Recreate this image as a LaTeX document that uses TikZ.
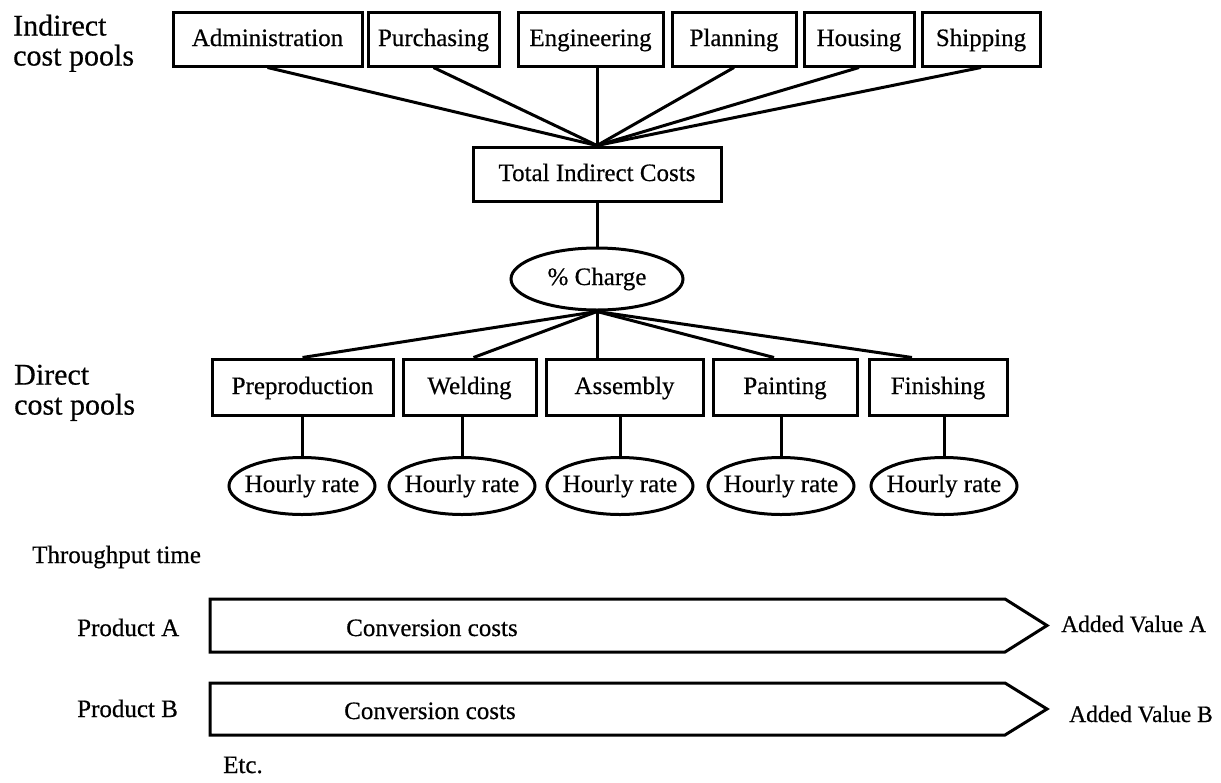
\documentclass[tikz,border=0pt]{standalone}
\usepackage{fontspec}
\setmainfont{Liberation Serif}
\newfontfamily\inkserif{Liberation Serif}[FakeBold=0.5]
\usetikzlibrary{shapes.geometric,calc}
% label centred in an oval without widening it
\newcommand\ovaltext[1]{\makebox[0pt]{#1}}
\begin{document}
\begin{tikzpicture}[x=1pt,y=-1pt,
  txt/.style={font=\inkserif\fontsize{25}{28}\selectfont, inner sep=0pt},
  pool/.style={txt, draw, line width=3pt, minimum height=54pt, text height=19pt, text depth=5pt},
  oval/.style={txt, draw, ellipse, line width=3pt, text height=18pt, text depth=6pt},
  link/.style={line width=3pt},
  flow/.style={line width=3pt, line join=miter},
  sidelabel/.style={font=\inkserif\fontsize{30}{30}\selectfont, align=left, inner sep=0pt, anchor=north west},
  plain/.style={txt, anchor=base west},
  result/.style={plain, font=\inkserif\fontsize{23.5}{28}\selectfont}]
\useasboundingbox (0,0) rectangle (1221,782);

% ---- indirect cost pools ----
\node[sidelabel] (indirect) at (13,14.5) {Indirect\\cost pools};
\node[pool, minimum width=189pt] (adm) at (267.5,39) {Administration};
\node[pool, minimum width=131pt] (pur) at (433.5,39) {Purchasing};
\node[pool, minimum width=145pt] (eng) at (590.5,39) {Engineering};
\node[pool, minimum width=124pt] (pla) at (734,39)   {Planning};
\node[pool, minimum width=110pt] (hou) at (859,39)   {Housing};
\node[pool, minimum width=118pt] (shi) at (981,39)   {Shipping};

\node[pool, minimum width=248pt] (total) at (597,174) {Total Indirect Costs};

\draw[link] (adm.south) -- (total.north);
\draw[link] (pur.south) -- (total.north);
\draw[link] (eng.south -| total.north) -- (total.north);
\draw[link] (pla.south) -- (total.north);
\draw[link] (hou.south) -- (total.north);
\draw[link] (shi.south) -- (total.north);

% ---- overhead charge ----
\node[oval, minimum width=172pt, minimum height=62pt] (charge) at (597,279) {\ovaltext{\% Charge}};
\draw[link] (total.south) -- (charge.north);

% ---- direct cost pools ----
\node[sidelabel] (direct) at (14,364.5) {Direct\\cost pools};
\node[pool, minimum width=181pt, minimum height=56pt] (pre) at (302.5,387) {Preproduction};
\node[pool, minimum width=133pt, minimum height=56pt] (wel) at (469.5,387) {Welding};
\node[pool, minimum width=157pt, minimum height=56pt] (ass) at (624.5,387) {Assembly};
\node[pool, minimum width=144pt, minimum height=56pt] (pai) at (785,387)   {Painting};
\node[pool, minimum width=138pt, minimum height=56pt] (fin) at (938,387)   {Finishing};

\draw[link] (charge.south) -- (pre.north);
\draw[link] (charge.south) -- ($(wel.north)+(4,0)$);
\draw[link] (charge.south) -- (charge.south |- ass.north);
\draw[link] (charge.south) -- ($(pai.north)+(-11,0)$);
\draw[link] (charge.south) -- ($(fin.north)+(-26,0)$);

% ---- hourly rates ----
\foreach \n/\x/\p in {1/302/pre, 2/462/wel, 3/620/ass, 4/781/pai, 5/944/fin}{
  \node[oval, minimum width=146pt, minimum height=57pt] (hr\n) at (\x,486) {\ovaltext{Hourly rate}};
  \draw[link] (hr\n.north) -- (hr\n.north |- \p.south);
}

% ---- throughput ----
\node[plain] (tput) at (32,563) {Throughput time};

\node[plain] (prodA) at (77,636) {Product A};
\draw[flow] (210,599) -- (1005,599) -- (1047,625.5) -- (1005,652) -- (210,652) -- cycle;
\node[plain] (convA) at (346,636) {Conversion costs};
\node[result] (addA) at (1061,632) {Added Value A};

\node[plain] (prodB) at (77,717) {Product B};
\draw[flow] (210,683) -- (1005,683) -- (1047,709) -- (1005,735) -- (210,735) -- cycle;
\node[plain] (convB) at (344,719) {Conversion costs};
\node[result] (addB) at (1069,722) {Added Value B};

\node[plain] (etc) at (223,773) {Etc.};
\end{tikzpicture}
\end{document}
